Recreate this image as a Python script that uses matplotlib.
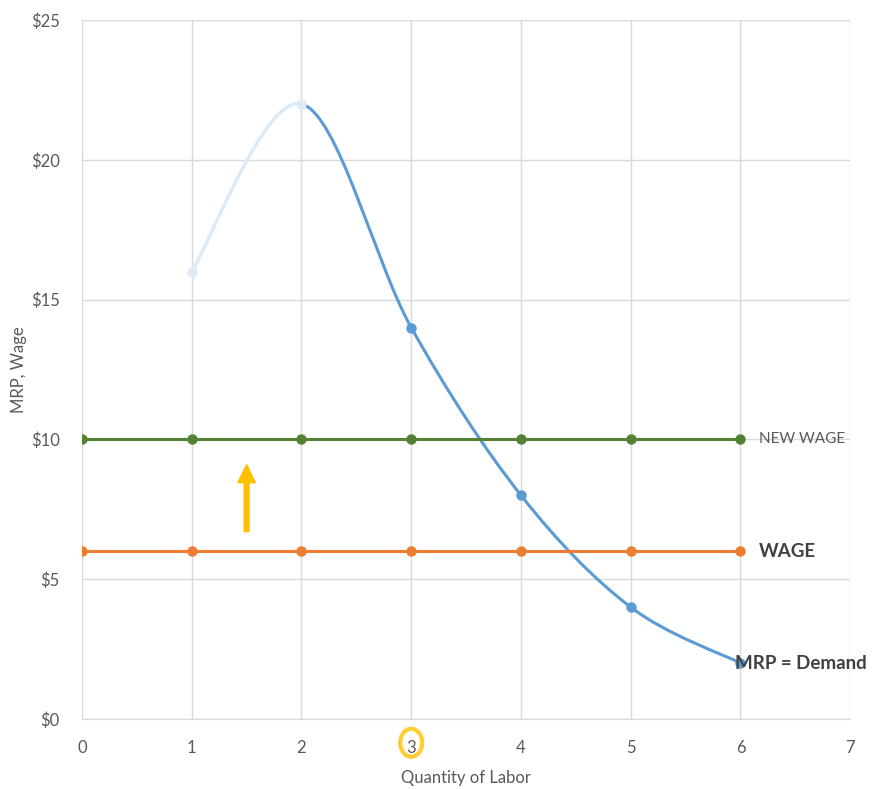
import numpy as np
import matplotlib
matplotlib.use("Agg")
import matplotlib.pyplot as plt
from matplotlib.path import Path
from matplotlib.patches import PathPatch, FancyArrow, Ellipse

plt.rcParams["font.family"] = ["Lato", "DejaVu Sans"]

# data
labor = [1, 2, 3, 4, 5, 6]
mrp = [16, 22, 14, 8, 4, 2]
wage_x = [0, 1, 2, 3, 4, 5, 6]
wage = [6, 6, 6, 6, 6, 6, 6]
new_wage = [10, 10, 10, 10, 10, 10, 10]
x_ticks = [0, 1, 2, 3, 4, 5, 6, 7]
y_ticks = [0, 5, 10, 15, 20, 25]

BLUE = "#5B9BD5"
LIGHT = "#DDEBF7"
GREEN = "#548235"
ORANGE = "#ED7D31"
GRID = "#D9D9D9"
TXT = "#595959"


def bezier_path(xs, ys):
    # Excel-like smoothed line: cubic bezier between points
    pts = np.column_stack([xs, ys]).astype(float)
    n = len(pts)
    verts = [pts[0]]
    codes = [Path.MOVETO]
    for i in range(n - 1):
        p0 = pts[i - 1] if i > 0 else pts[i]
        p1 = pts[i]
        p2 = pts[i + 1]
        p3 = pts[i + 2] if i + 2 < n else pts[i + 1]
        c1 = p1 + (p2 - p0) / 6
        c2 = p2 - (p3 - p1) / 6
        verts += [c1, c2, p2]
        codes += [Path.CURVE4] * 3
    return verts, codes


fig = plt.figure(figsize=(8.72, 7.89), dpi=100)
ax = fig.add_axes([0.094, 0.0887, 0.881, 0.886])

ax.set_xlim(0, 7)
ax.set_ylim(0, 25)
ax.set_xticks(x_ticks)
ax.set_yticks(y_ticks)
ax.set_yticklabels([f"${v}" for v in y_ticks])
ax.grid(True, color=GRID, linewidth=1)
ax.set_axisbelow(True)
for s in ["top", "right"]:
    ax.spines[s].set_visible(False)
ax.spines["left"].set_color(GRID)
ax.spines["bottom"].set_color(GRID)
ax.tick_params(length=0, colors=TXT, labelsize=12)
ax.tick_params(axis="y", pad=16)
ax.tick_params(axis="x", pad=15)

# MRP curve: faded part first, then the dark part
verts, codes = bezier_path(labor, mrp)
seg1 = Path(verts[:4], codes[:4])
ax.add_patch(PathPatch(seg1, facecolor="none", edgecolor=LIGHT, lw=2.5, zorder=3))
rest = [verts[3]] + verts[4:]
ax.add_patch(PathPatch(Path(rest, [Path.MOVETO] + codes[4:]),
                       facecolor="none", edgecolor=BLUE, lw=2.2, zorder=3))
ax.plot(labor[:2], mrp[:2], "o", color=LIGHT, ms=6.5, zorder=4)
ax.plot(labor[2:], mrp[2:], "o", color=BLUE, ms=6.5, zorder=4)

ax.plot(wage_x, new_wage, "-o", color=GREEN, lw=2.2, ms=6.5, zorder=4)
ax.plot(wage_x, wage, "-o", color=ORANGE, lw=2.2, ms=6.5, zorder=4)

ax.text(6.17, new_wage[-1], "NEW WAGE", color=TXT, fontsize=11, va="center", ha="left")
ax.text(6.17, wage[-1], "WAGE", color="#404040", fontsize=13.5, fontweight="bold",
        va="center", ha="left")
ax.text(5.95, mrp[-1], "MRP = Demand", color="#404040", fontsize=13.5, fontweight="bold",
        va="center", ha="left", zorder=5)

# yellow arrow
ax.add_patch(FancyArrow(1.5, 6.7, 0, 2.4, width=0.045, head_width=0.16,
                        head_length=0.65, length_includes_head=True,
                        color="#FFC000", zorder=5))

# highlight ring around tick 3
ax.add_patch(Ellipse((3, -0.85), 0.2, 1.0, facecolor="none", edgecolor="#FFC000",
                     linewidth=3, alpha=0.8, clip_on=False, zorder=6))

ax.set_xlabel("Quantity of Labor", color=TXT, fontsize=12, labelpad=10)
ax.set_ylabel("MRP, Wage", color=TXT, fontsize=12)
ax.yaxis.set_label_coords(-0.071, 0.5)

fig.savefig("out.png", dpi=100)
